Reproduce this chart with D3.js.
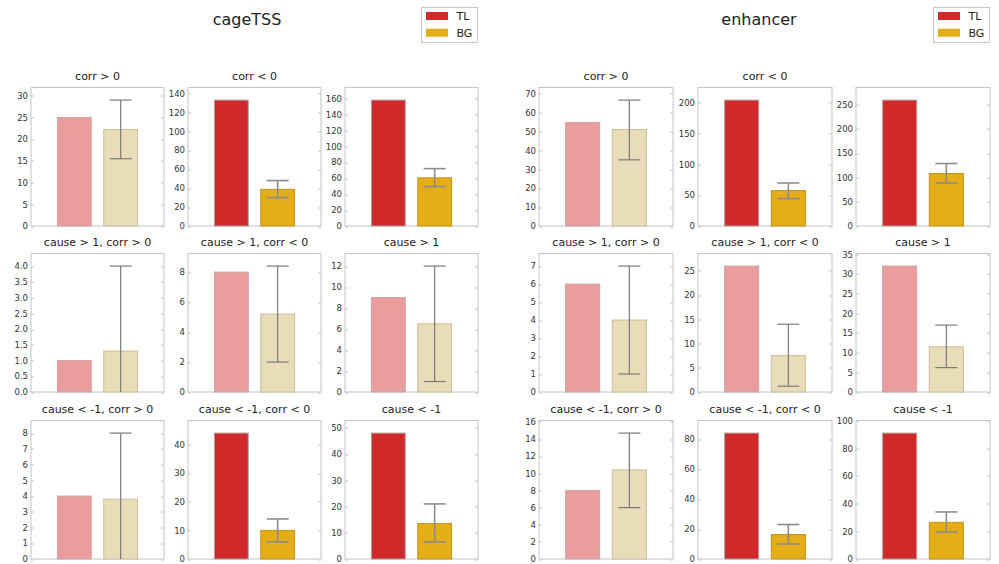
<!DOCTYPE html>
<html>
<head>
<meta charset="utf-8">
<script src="https://cdn.jsdelivr.net/npm/d3@7"></script>
<style>
  html, body { margin: 0; padding: 0; background: #fff; }
  svg { display: block; font-family: "DejaVu Sans", sans-serif; }
</style>
</head>
<body>
<svg id="chart" width="999" height="564"></svg>
<script>
// ---- data -------------------------------------------------------------
const groups = ["cageTSS", "enhancer"];
const series = ["TL", "BG"];
const panelTitles = [
  "corr > 0", "corr < 0", "",
  "cause > 1, corr > 0", "cause > 1, corr < 0", "cause > 1",
  "cause < -1, corr > 0", "cause < -1, corr < 0", "cause < -1"
];

// cageTSS
const tlCage      = [25, 133, 158, 1.0, 8, 9, 4, 44, 48];
const bgCage      = [22.2, 38.7, 60.5, 1.3, 5.2, 6.5, 3.8, 10, 13.5];
const bgLowCage   = [15.5, 30, 49.5, 0, 2.0, 1.0, 0, 6, 6.5];
const bgHighCage  = [29, 48, 72, 4.0, 8.4, 12, 8, 14, 21];
const sigCage     = [false, true, true, false, false, false, false, true, true];
const tickStepCage = [5, 20, 20, 0.5, 2, 2, 1, 10, 10];

// enhancer
const tlEnh      = [54.7, 204, 259, 6, 26, 32, 8, 84, 91];
const bgEnh      = [51, 57.4, 108, 4, 7.5, 11.5, 10.4, 16.3, 26.5];
const bgLowEnh   = [35, 44.4, 88.5, 1, 1.2, 6.2, 6, 10, 19.5];
const bgHighEnh  = [66.6, 69.7, 128.5, 7, 14, 17, 14.7, 23, 34];
const sigEnh     = [false, true, true, false, false, false, false, true, true];
const tickStepEnh = [10, 50, 50, 1, 5, 5, 2, 20, 20];

const groupData = [
  { tl: tlCage, bg: bgCage, lo: bgLowCage, hi: bgHighCage, sig: sigCage, step: tickStepCage },
  { tl: tlEnh,  bg: bgEnh,  lo: bgLowEnh,  hi: bgHighEnh,  sig: sigEnh,  step: tickStepEnh }
];

// ---- styling & layout ---------------------------------------------------
const colors = {
  TL: { strong: "#d0292a", faded: "#eb9c9c", edgeStrong: "#b0a0a0", edgeFaded: "#c9a5a5" },
  BG: { strong: "#e5ad17", faded: "#e9ddb9", edgeStrong: "#c0951c", edgeFaded: "#cbbd98" }
};
const layout = {
  colLeft: [[31, 188, 345], [539, 698, 856]],
  panelW: [133, 134],
  rowTop: [87.5, 253.5, 420.5],
  panelH: 138.5,
  titleX: [247, 759]
};

const svg = d3.select("#chart");

groups.forEach((gName, gi) => {
  const gd = groupData[gi];
  const cols = layout.colLeft[gi];
  const pw = layout.panelW[gi];
  const gRight = cols[2] + pw;

  // group title
  svg.append("text")
    .attr("x", layout.titleX[gi])
    .attr("y", 25)
    .attr("text-anchor", "middle")
    .attr("font-size", 16)
    .attr("fill", "#222")
    .text(gName);

  // legend
  const lg = svg.append("g").attr("transform", `translate(${gRight - 56.5},${7.5})`);
  lg.append("rect").attr("width", 56).attr("height", 35)
    .attr("fill", "#fff").attr("stroke", "#c8c8c8").attr("stroke-width", 1);
  series.forEach((s, si) => {
    lg.append("rect")
      .attr("x", 4.5).attr("y", 4.5 + si * 16.7)
      .attr("width", 22).attr("height", 8)
      .attr("fill", colors[s].strong);
    lg.append("text")
      .attr("x", 35).attr("y", 12.5 + si * 16.7)
      .attr("font-size", 11).attr("fill", "#222")
      .text(s);
  });

  panelTitles.forEach((title, pi) => {
    const r = Math.floor(pi / 3), c = pi % 3;
    const x0 = cols[c], y0 = layout.rowTop[r];
    const ph = layout.panelH;
    const tl = gd.tl[pi], bg = gd.bg[pi], lo = gd.lo[pi], hi = gd.hi[pi];
    const sig = gd.sig[pi];
    const yMax = 1.1 * Math.max(tl, hi);

    const g = svg.append("g").attr("transform", `translate(${x0},${y0})`);

    const x = d3.scaleBand().domain(series).range([0, pw])
      .paddingInner(0.27).paddingOuter(0.57);
    const y = d3.scaleLinear().domain([0, yMax]).range([ph, 0]);

    // frame
    g.append("rect")
      .attr("x", 0).attr("y", 0).attr("width", pw).attr("height", ph)
      .attr("fill", "#fff").attr("stroke", "#c4c4c4").attr("stroke-width", 1);

    // y ticks
    const step = gd.step[pi];
    const ticks = d3.range(0, yMax + step * 1e-6, step);
    const fmt = step < 1 ? d3.format(".1f") : d3.format("d");
    const yAxis = d3.axisLeft(y).tickValues(ticks).tickFormat(fmt).tickSize(0).tickPadding(3);
    const ax = g.append("g").call(yAxis);
    ax.select(".domain").remove();
    ax.selectAll("text").attr("font-size", 8.5).attr("fill", "#333")
      .attr("font-family", "DejaVu Sans, sans-serif");
    // small inward tick marks on both sides
    g.selectAll(".tickL").data(ticks).enter().append("line")
      .attr("x1", 0).attr("x2", 3)
      .attr("y1", d => Math.round(y(d)) + 0.5).attr("y2", d => Math.round(y(d)) + 0.5)
      .attr("stroke", "#c4c4c4").attr("stroke-width", 1);
    g.selectAll(".tickR").data(ticks).enter().append("line")
      .attr("x1", pw).attr("x2", pw - 3)
      .attr("y1", d => Math.round(y(d)) + 0.5).attr("y2", d => Math.round(y(d)) + 0.5)
      .attr("stroke", "#c4c4c4").attr("stroke-width", 1);

    // bars
    const vals = [{ s: "TL", v: tl }, { s: "BG", v: bg }];
    g.selectAll(".bar").data(vals).enter().append("rect")
      .attr("x", d => x(d.s))
      .attr("y", d => y(d.v))
      .attr("width", x.bandwidth())
      .attr("height", d => y(0) - y(d.v))
      .attr("fill", d => sig ? colors[d.s].strong : colors[d.s].faded)
      .attr("stroke", d => sig ? colors[d.s].edgeStrong : colors[d.s].edgeFaded)
      .attr("stroke-width", 1);

    // error bar on BG
    const cx = x("BG") + x.bandwidth() / 2;
    const capW = 11;
    const eColor = sig ? "#8c8c8c" : "#7a7a7a";
    const eW = sig ? 1.6 : 1.2;
    const yLo = y(Math.max(0, lo)), yHi = y(hi);
    g.append("line").attr("x1", cx).attr("x2", cx).attr("y1", yLo).attr("y2", yHi)
      .attr("stroke", eColor).attr("stroke-width", eW);
    g.append("line").attr("x1", cx - capW).attr("x2", cx + capW).attr("y1", yHi).attr("y2", yHi)
      .attr("stroke", eColor).attr("stroke-width", eW);
    if (lo > 0) {
      g.append("line").attr("x1", cx - capW).attr("x2", cx + capW).attr("y1", yLo).attr("y2", yLo)
        .attr("stroke", eColor).attr("stroke-width", eW);
    }

    // panel title
    if (title) {
      g.append("text")
        .attr("x", pw / 2).attr("y", -8)
        .attr("text-anchor", "middle")
        .attr("font-size", 11).attr("fill", "#222")
        .text(title);
    }
  });
});
</script>
</body>
</html>
